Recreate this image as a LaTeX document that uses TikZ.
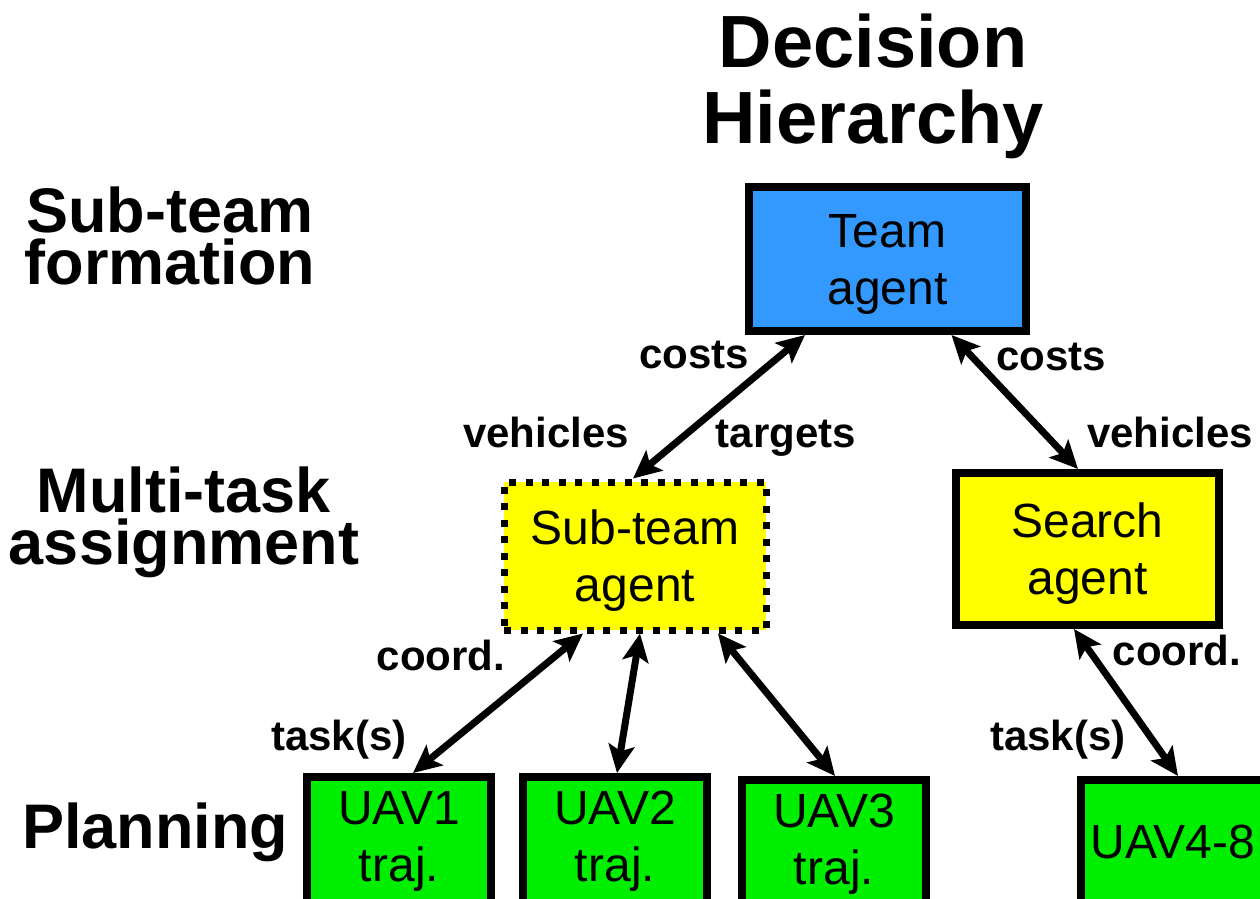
\documentclass[tikz,border=0pt]{standalone}
\usepackage{fontspec}
\setmainfont{Liberation Sans}
\usetikzlibrary{arrows.meta}

\definecolor{teamblue}{RGB}{51,153,255}
\definecolor{agentyellow}{RGB}{255,255,0}
\definecolor{uavgreen}{RGB}{0,238,0}

\begin{document}
\begin{tikzpicture}[x=0.5pt,y=-0.5pt,<->,>={Stealth[length=14pt,width=13pt,inset=3pt]},
                    line width=3.5pt]
  \tikzstyle{agent}=[draw,line width=4pt,align=center,text depth=0pt,
                     font=\fontsize{24}{28.5}\selectfont]
  \tikzstyle{uav}=[agent,fill=uavgreen,text depth=10pt,minimum width=92pt,minimum height=69.5pt]
  \tikzstyle{lbl}=[font=\fontsize{21}{25}\selectfont\bfseries,anchor=base]
  \tikzstyle{level}=[font=\fontsize{31.5}{26}\selectfont\bfseries,align=center]

  \useasboundingbox (0,0) rectangle (1260,899);
  \clip (0,0) rectangle (1260,899);

  \node[level,font=\fontsize{37}{38}\selectfont\bfseries] (title) at (873,86) {Decision\\Hierarchy};

  \node[level] (formation) at (170,236) {Sub-team\\formation};
  \node[level] (assignment) at (184,522) {Multi-task\\assignment};
  \node[level,anchor=base] (planning) at (155,848) {Planning};

  \node[agent,fill=teamblue,minimum width=138.5pt,minimum height=72pt] (team) at (887.5,259) {Team\\agent};
  \node[agent,fill=agentyellow,line width=3.5pt,dash pattern=on 3.5pt off 4.75pt,
        minimum width=131pt,minimum height=74pt] (sub) at (635,556) {Sub-team\\agent};
  \node[agent,fill=agentyellow,minimum width=131.5pt,minimum height=76pt] (search) at (1087.5,549) {Search\\agent};

  \node[uav] (uav1) at (399,846.5) {UAV1\\traj.};
  \node[uav] (uav2) at (615,846.5) {UAV2\\traj.};
  \node[uav] (uav3) at (834,849.5) {UAV3\\traj.};
  \node[uav,text depth=8pt] (uav48) at (1173,849.5) {UAV4-8};

  \draw ([xshift=-41.25pt]team.south) -- ([xshift=-1pt]sub.north);
  \draw ([xshift=32pt]team.south) -- ([xshift=-4.75pt]search.north);
  \draw ([xshift=-26pt]sub.south) -- ([xshift=7pt]uav1.north);
  \draw ([xshift=2.5pt]sub.south) -- ([xshift=1pt]uav2.north);
  \draw ([xshift=41.5pt]sub.south) -- ([xshift=0.5pt]uav3.north);
  \draw ([xshift=-6.75pt]search.south) -- ([xshift=2.5pt]uav48.north);

  \node[lbl] (costsL) at (694,368) {costs};
  \node[lbl] (costsR) at (1051,370) {costs};
  \node[lbl] (vehiclesL) at (546,447) {vehicles};
  \node[lbl] (targets) at (786,447) {targets};
  \node[lbl] (vehiclesR) at (1170,447) {vehicles};
  \node[lbl] (coordL) at (441,670) {coord.};
  \node[lbl] (tasksL) at (339,750) {task(s)};
  \node[lbl] (coordR) at (1177,665) {coord.};
  \node[lbl] (tasksR) at (1058,750) {task(s)};
\end{tikzpicture}
\end{document}
